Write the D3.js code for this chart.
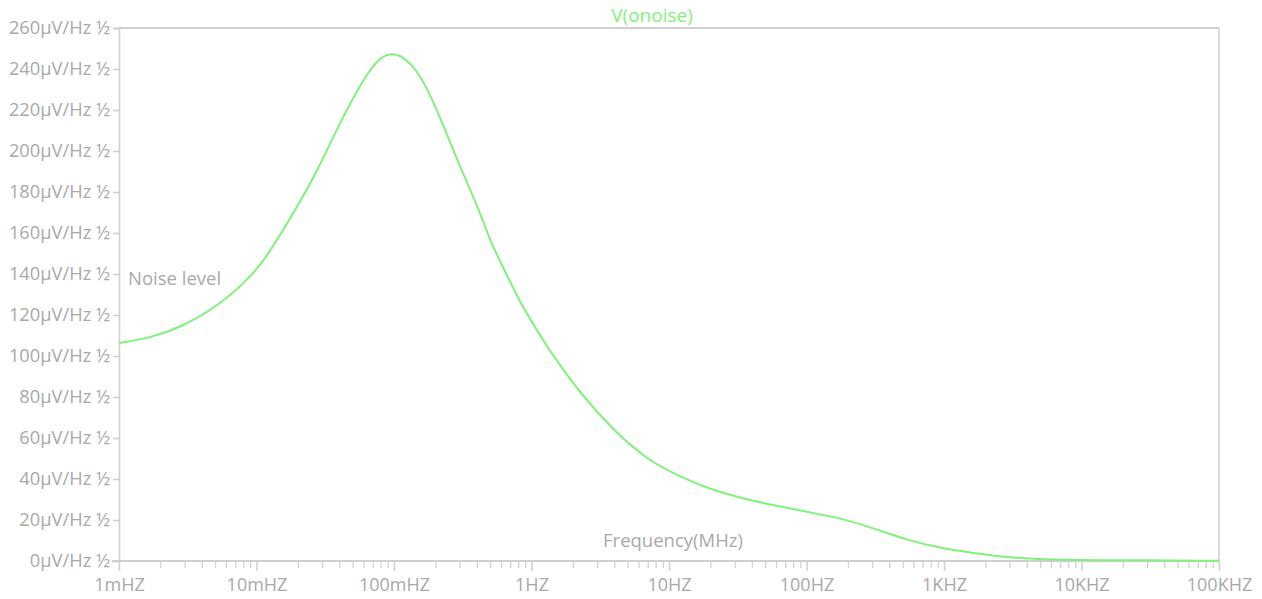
<!DOCTYPE html>
<html>
<head>
<meta charset="utf-8">
<script src="https://cdn.jsdelivr.net/npm/d3@7"></script>
<style>
  body { margin: 0; background: #fff; }
  svg { display: block; font-family: "Open Sans", sans-serif; }
</style>
</head>
<body>
<svg id="chart" width="1262" height="599"></svg>
<script>
// frequency (Hz) and output noise (µV/Hz ½)
const freqs = [0.001, 0.00168, 0.00278, 0.00543, 0.0094, 0.0125, 0.0197, 0.0275, 0.0405,
  0.0595, 0.0791, 0.0984, 0.1245, 0.163, 0.216, 0.302, 0.422, 0.499, 0.663, 0.824,
  1.36, 2.25, 3.92, 6.92, 12.6, 18.9, 32.8, 57, 101, 175, 305, 538, 935, 1626,
  2553, 5900, 18100, 100000];
const noise = [106.3, 108.8, 113.7, 124.9, 139.5, 150.7, 172.7, 189.8, 214,
  235, 246, 248, 245, 235, 216.6, 192.2, 170.5, 156, 139.5, 126,
  102, 82, 63.9, 49.3, 40.5, 35.6, 30.7, 27.3, 23.9, 21, 16.1, 10.2, 6.3, 3.9,
  2.0, 0.5, 0.4, 0.1];

const xTicks = [0.001, 0.01, 0.1, 1, 10, 100, 1000, 10000, 100000];
const xTickLabels = ["1mHZ", "10mHZ", "100mHZ", "1HZ", "10HZ", "100HZ", "1KHZ", "10KHZ", "100KHZ"];
const yTicks = d3.range(0, 261, 20);

const margin = { top: 28, right: 43, bottom: 38, left: 119 };
const width = 1262 - margin.left - margin.right;
const height = 599 - margin.top - margin.bottom;

const axisGray = "#cfcfcf";
const textGray = "#a9a9a9";
const green = "#7ff27a";

const svg = d3.select("#chart");
const g = svg.append("g").attr("transform", `translate(${margin.left},${margin.top})`);

const x = d3.scaleLog().domain([0.001, 100000]).range([0, width]);
const y = d3.scaleLinear().domain([0, 260]).range([height, 0]);

// frame: top and right edges
g.append("line").attr("x1", 0).attr("x2", width).attr("y1", 0).attr("y2", 0)
  .attr("stroke", axisGray).attr("stroke-width", 2);
g.append("line").attr("x1", width).attr("x2", width).attr("y1", 0).attr("y2", height)
  .attr("stroke", axisGray).attr("stroke-width", 1.5);

// y axis
const yAxis = g.append("g")
  .call(d3.axisLeft(y).tickValues(yTicks).tickSize(6).tickPadding(3)
    .tickFormat((d) => `${d}µV/Hz ½`));
yAxis.select(".domain").attr("stroke", axisGray).attr("stroke-width", 1.5);
yAxis.selectAll(".tick line").attr("stroke", axisGray).attr("stroke-width", 1.5);
yAxis.selectAll("text").attr("fill", textGray).style("font-size", "18.3px")
  .style("font-family", "'Open Sans', sans-serif");

// x axis, minor ticks first
const minor = [];
for (let e = -3; e < 5; e += 1) {
  for (let k = 2; k < 10; k += 1) minor.push(k * Math.pow(10, e));
}
const xMinor = g.append("g").attr("transform", `translate(0,${height})`)
  .call(d3.axisBottom(x).tickValues(minor).tickSize(7).tickFormat(""));
xMinor.select(".domain").remove();
xMinor.selectAll(".tick line").attr("stroke", axisGray).attr("stroke-width", 1.2);

const xAxis = g.append("g").attr("transform", `translate(0,${height})`)
  .call(d3.axisBottom(x).tickValues(xTicks).tickSize(10).tickPadding(7)
    .tickFormat((d, i) => xTickLabels[i]));
xAxis.select(".domain").attr("stroke", axisGray).attr("stroke-width", 2)
  .attr("d", `M-7,0H${width}`);
xAxis.selectAll(".tick line").attr("stroke", axisGray).attr("stroke-width", 1.5);
xAxis.selectAll("text").attr("fill", textGray).style("font-size", "18px")
  .style("font-family", "'Open Sans', sans-serif");

// noise curve
const points = freqs.map((f, i) => [f, noise[i]]);
const line = d3.line()
  .x((d) => x(d[0]))
  .y((d) => y(d[1]))
  .curve(d3.curveBasis);
g.append("path").datum(points)
  .attr("fill", "none")
  .attr("stroke", green)
  .attr("stroke-width", 2)
  .attr("d", line);

// labels
svg.append("text").attr("x", 652).attr("y", 22).attr("text-anchor", "middle")
  .attr("fill", green).style("font-size", "19px").text("V(onoise)");
svg.append("text").attr("x", 673).attr("y", 547).attr("text-anchor", "middle")
  .attr("fill", textGray).style("font-size", "18.5px").text("Frequency(MHz)");
svg.append("text").attr("x", 128).attr("y", 285)
  .attr("fill", textGray).style("font-size", "18.5px").text("Noise level");
</script>
</body>
</html>
